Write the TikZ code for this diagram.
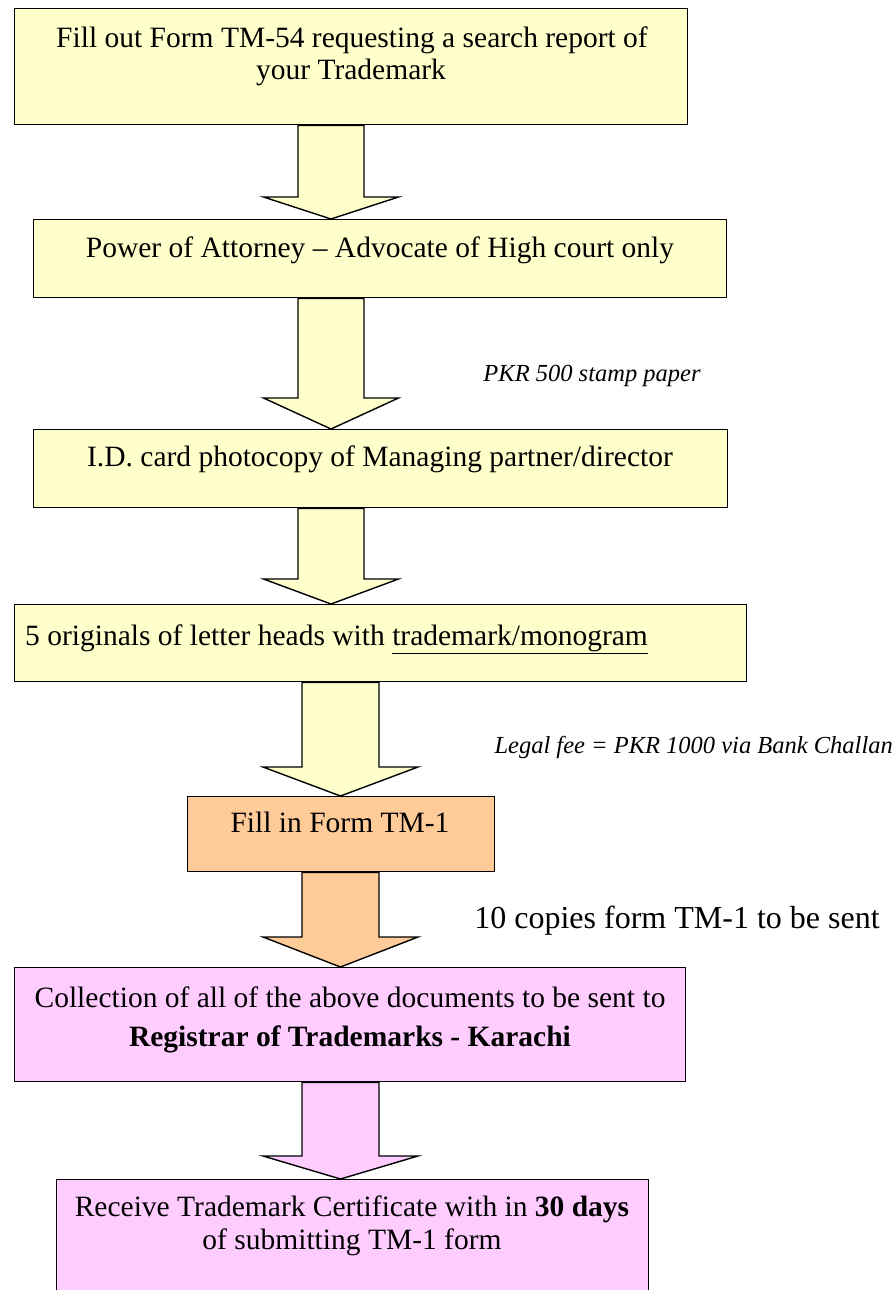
\documentclass[tikz,border=0pt]{standalone}
\usepackage{fontspec}
\setmainfont{Liberation Serif}
\usetikzlibrary{calc}

\definecolor{paleyellow}{RGB}{255,255,204}
\definecolor{paleorange}{RGB}{255,204,153}
\definecolor{palepink}{RGB}{255,204,255}

\tikzset{
  stepbox/.style={draw=black, line width=1.4pt, rectangle, inner sep=0pt,
    anchor=north west},
  boxtext/.style={anchor=base, inner sep=0pt, font=\fontsize{29.5}{34}\selectfont},
  notetext/.style={anchor=base, inner sep=0pt, font=\fontsize{24.5}{30}\selectfont\itshape},
  bignote/.style={anchor=base, inner sep=0pt, font=\fontsize{32}{38}\selectfont},
  blockarrow/.style={draw=black, line width=1.4pt, line join=miter},
}

% block arrow from the bottom of #1 to the top of #2
% #3 centre x, #4 half shaft width, #5 half head width, #6 head height, #7 fill
\newcommand\flowarrow[7]{%
  \draw[blockarrow, fill=#7] let \p1=(#1.south), \p2=(#2.north) in
    ({#3pt-#4pt},\y1) -- ({#3pt-#4pt},\y2+#6pt) -- ({#3pt-#5pt},\y2+#6pt)
    -- (#3pt,\y2) -- ({#3pt+#5pt},\y2+#6pt) -- ({#3pt+#4pt},\y2+#6pt)
    -- ({#3pt+#4pt},\y1) -- cycle;
}

\begin{document}
\begin{tikzpicture}[x=1pt,y=-1pt]
  \clip (0,0) rectangle (896,1290);
  \useasboundingbox (0,0) rectangle (896,1290);

  % step boxes
  \node (b1) [stepbox, fill=paleyellow, minimum width=673pt, minimum height=116pt] at (14,8) {};
  \node (b2) [stepbox, fill=paleyellow, minimum width=693pt, minimum height=78pt] at (33,219) {};
  \node (b3) [stepbox, fill=paleyellow, minimum width=694pt, minimum height=78pt] at (33,429) {};
  \node (b4) [stepbox, fill=paleyellow, minimum width=732pt, minimum height=77pt] at (14,604) {};
  \node (b5) [stepbox, fill=paleorange, minimum width=307pt, minimum height=75pt] at (187,796) {};
  \node (b6) [stepbox, fill=palepink, minimum width=671pt, minimum height=114pt] at (14,967) {};
  \node (b7) [stepbox, fill=palepink, minimum width=592pt, minimum height=120pt] at (56,1179) {};

  % arrows between the steps
  \flowarrow{b1}{b2}{331}{33}{67.5}{22}{paleyellow}
  \flowarrow{b2}{b3}{331}{33}{67.5}{31}{paleyellow}
  \flowarrow{b3}{b4}{331}{33}{67.5}{25}{paleyellow}
  \flowarrow{b4}{b5}{340.5}{38.5}{77.5}{29}{paleyellow}
  \flowarrow{b5}{b6}{340.5}{38.5}{77.5}{30}{paleorange}
  \flowarrow{b6}{b7}{340.5}{38.5}{77.5}{23}{palepink}

  % box texts
  \node (t1a) [boxtext] at (352,48) {Fill out Form TM-54 requesting a search report of};
  \node (t1b) [boxtext] at (351,80) {your Trademark};
  \node (t2)  [boxtext] at (380,257) {Power of Attorney – Advocate of High court only};
  \node (t3)  [boxtext] at (380,466) {I.D. card photocopy of Managing partner/director};
  \node (t4)  [boxtext, anchor=base west] at (25,645) {5 originals of letter heads with \underline{trademark/monogram}};
  \node (t5)  [boxtext] at (340,832) {Fill in Form TM-1};
  \node (t6a) [boxtext] at (350,1007) {Collection of all of the above documents to be sent to};
  \node (t6b) [boxtext] at (350,1046) {\bfseries Registrar of Trademarks - Karachi};
  \node (t7a) [boxtext] at (352,1216) {Receive Trademark Certificate with in \textbf{30 days}};
  \node (t7b) [boxtext] at (352,1249) {of submitting TM-1 form};

  % notes beside the arrows
  \node (n1) [notetext] at (592,381) {PKR 500 stamp paper};
  \node (n2) [notetext, anchor=base east] at (893,753) {Legal fee = PKR 1000 via Bank Challan};
  \node (n3) [bignote] at (677,928) {10 copies form TM-1 to be sent};
\end{tikzpicture}
\end{document}
